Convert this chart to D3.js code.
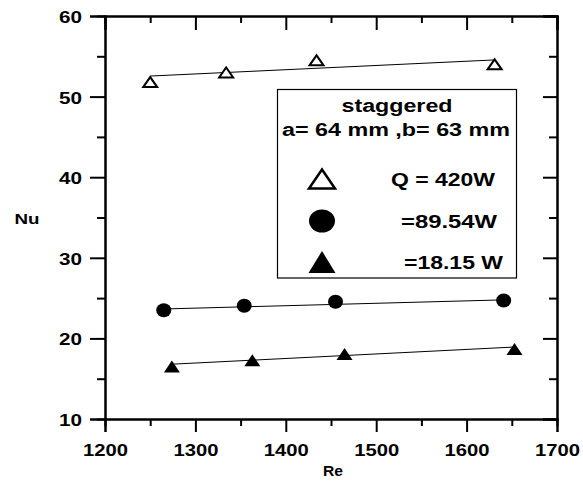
<!DOCTYPE html>
<html>
<head>
<meta charset="utf-8">
<script src="https://cdn.jsdelivr.net/npm/d3@7"></script>
<style>
  html, body { margin: 0; padding: 0; background: #fff; }
  svg { display: block; }
  text { font-family: "Liberation Sans", Arial, sans-serif; font-weight: bold; fill: #000; }
</style>
</head>
<body>
<svg id="chart" width="583" height="482"></svg>
<script>
// ---- data ----
const reQ420 = [1250, 1334, 1434, 1631];
const nuQ420 = [51.8, 53.0, 54.5, 54.0];
const fitQ420 = [[1250, 52.55], [1631, 54.55]];

const reQ89 = [1265, 1354, 1455, 1641];
const nuQ89 = [23.5, 24.05, 24.55, 24.7];
const fitQ89 = [[1265, 23.65], [1641, 24.78]];

const reQ18 = [1274, 1363, 1465, 1653];
const nuQ18 = [16.5, 17.3, 18.05, 18.7];
const fitQ18 = [[1274, 16.8], [1653, 18.93]];

const xTicks = [1200, 1300, 1400, 1500, 1600, 1700];
const xMinor = [1250, 1350, 1450, 1550, 1650];
const yTicks = [10, 20, 30, 40, 50, 60];
const yMinor = [15, 25, 35, 45, 55];

const legendTitle = ["staggered", "a= 64 mm ,b= 63 mm"];
const legendLabels = ["Q = 420W", "=89.54W", "=18.15 W"];

// ---- layout ----
const svg = d3.select("#chart");
const L = 105, T = 16, R = 557, B = 419;
const x = d3.scaleLinear().domain([1200, 1700]).range([L, R]);
const y = d3.scaleLinear().domain([10, 60]).range([B, T]);

// axes
const fmt = d3.format("d");
const gB = svg.append("g").attr("transform", `translate(0,${B})`)
  .call(d3.axisBottom(x).tickValues(xTicks).tickFormat(fmt).tickSize(13).tickPadding(12));
const gBm = svg.append("g").attr("transform", `translate(0,${B})`)
  .call(d3.axisBottom(x).tickValues(xMinor).tickFormat("").tickSize(7));
const gT = svg.append("g").attr("transform", `translate(0,${T})`)
  .call(d3.axisTop(x).tickValues(xTicks).tickFormat("").tickSize(-14));
const gTm = svg.append("g").attr("transform", `translate(0,${T})`)
  .call(d3.axisTop(x).tickValues(xMinor).tickFormat("").tickSize(-7));
const gL = svg.append("g").attr("transform", `translate(${L},0)`)
  .call(d3.axisLeft(y).tickValues(yTicks).tickFormat(fmt).tickSize(15).tickPadding(8));
const gLm = svg.append("g").attr("transform", `translate(${L},0)`)
  .call(d3.axisLeft(y).tickValues(yMinor).tickFormat("").tickSize(8));
const gR = svg.append("g").attr("transform", `translate(${R},0)`)
  .call(d3.axisRight(y).tickValues(yTicks).tickFormat("").tickSize(-14));
const gRm = svg.append("g").attr("transform", `translate(${R},0)`)
  .call(d3.axisRight(y).tickValues(yMinor).tickFormat("").tickSize(-8));

[gB, gBm, gT, gTm, gL, gLm, gR, gRm].forEach(g => {
  g.select(".domain").attr("stroke", "#000").attr("stroke-width", 2);
  g.selectAll(".tick line").attr("stroke", "#000").attr("stroke-width", 2);
});
gB.selectAll(".tick text").attr("font-size", 17).attr("textLength", 45)
  .attr("lengthAdjust", "spacingAndGlyphs").attr("dy", "0.71em").attr("font-family", null);
gL.selectAll(".tick text").attr("font-size", 17).attr("textLength", 23)
  .attr("lengthAdjust", "spacingAndGlyphs").attr("dy", "0.38em").attr("font-family", null);

// axis titles
svg.append("text").attr("x", 27).attr("y", 224).attr("text-anchor", "middle")
  .attr("font-size", 15).attr("textLength", 25).attr("lengthAdjust", "spacingAndGlyphs").text("Nu");
svg.append("text").attr("x", 333).attr("y", 476).attr("text-anchor", "middle")
  .attr("font-size", 15).attr("textLength", 20).attr("lengthAdjust", "spacingAndGlyphs").text("Re");

// fit lines
const line = d3.line().x(d => x(d[0])).y(d => y(d[1]));
[fitQ420, fitQ89, fitQ18].forEach(f => {
  svg.append("path").attr("d", line(f)).attr("fill", "none").attr("stroke", "#000").attr("stroke-width", 1);
});

// marker helpers
function tri(cx, cy, w, h) {
  return `M${cx - w / 2},${cy + h / 2}L${cx + w / 2},${cy + h / 2}L${cx},${cy - h / 2}Z`;
}
const d420 = reQ420.map((r, i) => [r, nuQ420[i]]);
const d89 = reQ89.map((r, i) => [r, nuQ89[i]]);
const d18 = reQ18.map((r, i) => [r, nuQ18[i]]);

svg.append("g").selectAll("path").data(d420).join("path")
  .attr("d", d => tri(x(d[0]), y(d[1]), 14, 10))
  .attr("fill", "#fff").attr("stroke", "#000").attr("stroke-width", 2);
svg.append("g").selectAll("ellipse").data(d89).join("ellipse")
  .attr("cx", d => x(d[0])).attr("cy", d => y(d[1])).attr("rx", 7.5).attr("ry", 7)
  .attr("fill", "#000");
svg.append("g").selectAll("path").data(d18).join("path")
  .attr("d", d => tri(x(d[0]), y(d[1]), 16, 12))
  .attr("fill", "#000");

// legend box
const lg = svg.append("g");
lg.append("rect").attr("x", 277.5).attr("y", 89.5).attr("width", 239).attr("height", 188.5)
  .attr("fill", "#fff").attr("stroke", "#000").attr("stroke-width", 1.2);
lg.append("text").attr("x", 397).attr("y", 112).attr("text-anchor", "middle")
  .attr("font-size", 18).attr("textLength", 111).attr("lengthAdjust", "spacingAndGlyphs").text(legendTitle[0]);
lg.append("text").attr("x", 396).attr("y", 136).attr("text-anchor", "middle")
  .attr("font-size", 18).attr("textLength", 228).attr("lengthAdjust", "spacingAndGlyphs").text(legendTitle[1]);

const rowY = [179, 221, 262];
lg.append("path").attr("d", tri(322, rowY[0], 26, 19)).attr("fill", "#fff").attr("stroke", "#000").attr("stroke-width", 2.5);
lg.append("ellipse").attr("cx", 322).attr("cy", rowY[1]).attr("rx", 13).attr("ry", 11.5).attr("fill", "#000");
lg.append("path").attr("d", tri(322, rowY[2], 27, 22)).attr("fill", "#000");

const labX = [391, 401, 404];
const labW = [104, 96, 99];
legendLabels.forEach((t, i) => {
  lg.append("text").attr("x", labX[i]).attr("y", rowY[i] + 6.5)
    .attr("font-size", 18).attr("textLength", labW[i]).attr("lengthAdjust", "spacingAndGlyphs").text(t);
});
</script>
</body>
</html>
